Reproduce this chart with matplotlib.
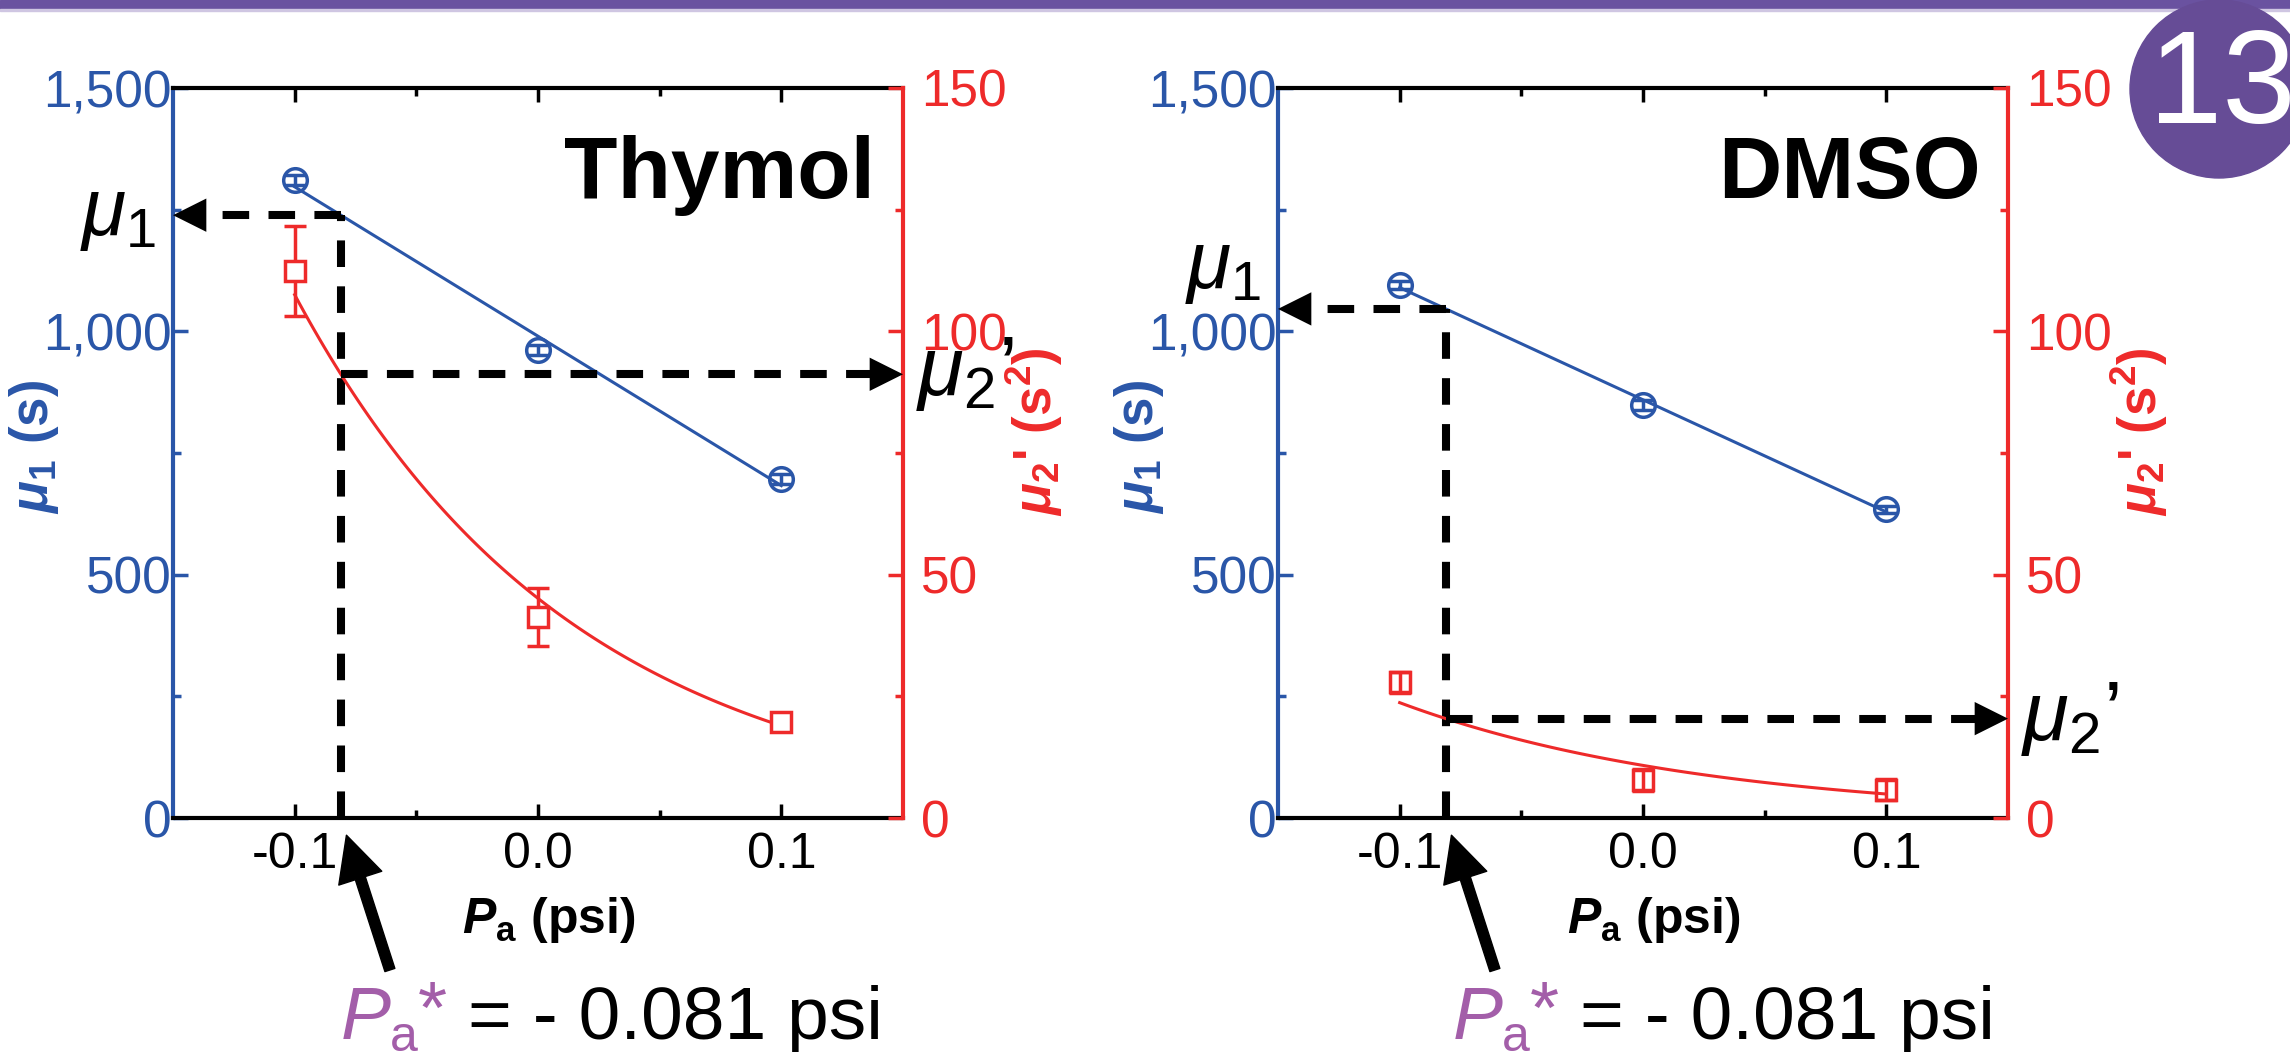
import numpy as np
import matplotlib
matplotlib.use('Agg')
import matplotlib.pyplot as plt
import matplotlib.transforms as mtransforms
from matplotlib.patches import Circle, Rectangle

# values
pressure = [-0.1, 0.0, 0.1]
p_star = -0.081
x_tick_labels = ['-0.1', '0.0', '0.1']
mu1_ticks = [0, 500, 1000, 1500]
mu1_tick_labels = ['0', '500', '1,000', '1,500']
mu2_ticks = [0, 50, 100, 150]
mu2_tick_labels = ['0', '50', '100', '150']

solvents = ['Thymol', 'DMSO']
thymol_mu1 = [1311, 962, 697]
thymol_mu1_err = [10, 10, 10]
thymol_mu2 = [112.4, 41.3, 19.8]
thymol_mu2_err = [9.2, 5.9, 1.0]
dmso_mu1 = [1095, 849, 634]
dmso_mu1_err = [8, 10, 8]
dmso_mu2 = [27.9, 7.8, 5.8]
dmso_mu2_err = [2.2, 2.2, 2.2]

BLUE = '#2a56a8'
RED = '#ee2a2a'
PURPLE = '#664c96'
LILAC = '#a35ea9'
FONT = 'Liberation Sans'

plt.rcParams['font.family'] = [FONT, 'DejaVu Sans']
plt.rcParams['mathtext.fontset'] = 'custom'
plt.rcParams['mathtext.rm'] = FONT
plt.rcParams['mathtext.it'] = FONT + ':italic'
plt.rcParams['mathtext.bf'] = FONT + ':bold'
plt.rcParams['mathtext.bfit'] = FONT + ':italic:bold'

W, H, DPI = 2290, 1052, 100
fig = plt.figure(figsize=(W / DPI, H / DPI), dpi=DPI)
inch = fig.dpi_scale_trans


def px(x, y):
    return x / DPI, (H - y) / DPI


def panel(left, name, mu1, mu1_err, mu2, mu2_err, sq_face, mu1_dy):
    ax = fig.add_axes([left / W, 1 - 818 / H, 730 / W, 730 / H])
    ax2 = ax.twinx()

    for a in (ax, ax2):
        for s in a.spines.values():
            s.set_linewidth(3)
    ax.spines['left'].set_color(BLUE)
    ax.spines['right'].set_visible(False)
    ax2.spines['right'].set_color(RED)
    for s in ('left', 'top', 'bottom'):
        ax2.spines[s].set_visible(False)

    ax.set_xlim(-0.15, 0.15)
    ax.set_xticks(pressure)
    ax.set_xticks([-0.05, 0.05], minor=True)
    ax.set_xticklabels(x_tick_labels)
    ax.set_ylim(0, 1500)
    ax.set_yticks(mu1_ticks)
    ax.set_yticklabels(mu1_tick_labels)
    ax.set_yticks([250, 750, 1250], minor=True)
    ax2.set_ylim(0, 150)
    ax2.set_yticks(mu2_ticks)
    ax2.set_yticklabels(mu2_tick_labels)
    ax2.set_yticks([25, 75, 125], minor=True)

    ax.tick_params(axis='x', which='both', direction='in', top=True, bottom=True,
                   color='k', width=2.5, labelsize=36, pad=10)
    ax.tick_params(axis='x', which='major', length=10)
    ax.tick_params(axis='x', which='minor', length=5.5)
    ax.tick_params(axis='y', which='both', direction='in', color=BLUE,
                   labelcolor=BLUE, width=2.5, labelsize=37, pad=1)
    ax.tick_params(axis='y', which='major', length=10.5)
    ax.tick_params(axis='y', which='minor', length=5.5)
    ax2.tick_params(axis='y', which='both', direction='in', color=RED,
                    labelcolor=RED, width=2.5, labelsize=37, pad=13)
    ax2.tick_params(axis='y', which='major', length=10.5)
    ax2.tick_params(axis='y', which='minor', length=5.5)

    # fits
    k1 = np.polyfit(pressure, mu1, 1)
    k2 = np.polyfit(pressure, np.log(mu2), 1)
    xs = np.linspace(pressure[0], pressure[-1], 100)
    ax.plot(xs, np.polyval(k1, xs), color=BLUE, lw=2.2, zorder=2)
    ax2.plot(xs, np.exp(np.polyval(k2, xs)), color=RED, lw=2.2, zorder=2)

    ax.errorbar(pressure, mu1, yerr=mu1_err, fmt='o', ms=17, mfc='none', mec=BLUE,
                mew=2.5, ecolor=BLUE, elinewidth=2.5, capsize=8, capthick=2.5, zorder=3)
    ax2.errorbar(pressure, mu2, yerr=mu2_err, fmt='s', ms=15, mfc=sq_face, mec=RED,
                 mew=2.5, ecolor=RED, elinewidth=2.5, capsize=8, capthick=2.5, zorder=3)

    ax.set_xlabel(r'$\mathbfit{P}_{\mathbf{a}}$ (psi)', fontsize=36, fontweight='bold',
                  va='top')
    ax.xaxis.set_label_coords(0.515, -0.105)
    ax.set_ylabel(r'$\mathbfit{\mu}_{\mathbf{1}}$ (s)', fontsize=38, fontweight='bold',
                  color=BLUE, rotation=90, ha='center', va='center')
    ax.yaxis.set_label_coords(-0.19, 0.508)
    ax2.set_ylabel(r"$\mathbfit{\mu}_{\mathbf{2}}$' (s$^{\mathbf{2}}$)", fontsize=38,
                   fontweight='bold', color=RED, rotation=90, ha='center', va='center')
    ax2.yaxis.set_label_coords(1.18, 0.529)

    ax.text(0.962, 0.849, name, transform=ax.transAxes, ha='right', va='baseline',
            fontsize=63, fontweight='bold')

    # P* construction
    mu1_star = np.polyval(k1, p_star)
    mu2_star = np.exp(np.polyval(k2, p_star))
    dash = dict(color='k', lw=5.8, dashes=(3.3, 2.4), clip_on=False, zorder=4)
    hl = 0.3 * 33 / 730
    head = dict(arrowstyle='-|>,head_length=1.2,head_width=0.6', mutation_scale=20,
                color='k', lw=0, shrinkA=0, shrinkB=0)
    ax.plot([p_star, p_star], [0, mu1_star], **dash)
    ax.plot([p_star, -0.15 + hl], [mu1_star, mu1_star], **dash)
    ax.annotate('', xy=(-0.15, mu1_star), xytext=(-0.15 + hl, mu1_star),
                arrowprops=head, annotation_clip=False, zorder=5)
    ax2.plot([p_star, 0.15 - hl], [mu2_star, mu2_star], **dash)
    ax2.annotate('', xy=(0.15, mu2_star), xytext=(0.15 - hl, mu2_star),
                 arrowprops=head, annotation_clip=False, zorder=5)

    tr1 = mtransforms.blended_transform_factory(ax.transAxes, ax.transData)
    off = mtransforms.offset_copy(tr1, fig=fig, x=0, y=mu1_dy * 72 / DPI, units='points')
    ax.text(-0.023, mu1_star, r'$\mu_1$', transform=off, fontsize=58,
            ha='right', va='center', clip_on=False)
    tr2 = mtransforms.blended_transform_factory(ax2.transAxes, ax2.transData)
    ax2.text(1.018, mu2_star, '$\\mu_2$\u2019', transform=tr2, fontsize=60,
             ha='left', va='center', clip_on=False)

    ax.annotate('', xy=(p_star, 0), xytext=(49, -152), textcoords='offset pixels',
                arrowprops=dict(arrowstyle='simple,head_length=1.3,head_width=1.3,tail_width=0.3',
                                mutation_scale=25, color='k', shrinkA=0, shrinkB=13),
                annotation_clip=False)
    return ax


panel(173, solvents[0], thymol_mu1, thymol_mu1_err, thymol_mu2, thymol_mu2_err, 'white', 0)
panel(1278, solvents[1], dmso_mu1, dmso_mu1_err, dmso_mu2, dmso_mu2_err, 'none', 41)

# P* = -0.081 psi captions
for dx in (0, 1112):
    fig.text(*px(341 + dx, 1039), 'P', transform=inch, color=LILAC, fontsize=54,
             style='italic', va='baseline')
    fig.text(*px(390 + dx, 1051), 'a', transform=inch, color=LILAC, fontsize=36,
             va='baseline')
    fig.text(*px(418 + dx, 1033), '*', transform=inch, color=LILAC, fontsize=54,
             va='baseline')
    fig.text(*px(468 + dx, 1039), '= - 0.081 psi', transform=inch, color='k',
             fontsize=54, va='baseline')

# header bar and page badge
fig.patches.append(Rectangle(px(0, 9), W / DPI, 0.09, transform=inch,
                             color='#6a52a0', zorder=0))
fig.patches.append(Rectangle(px(0, 11), W / DPI, 0.02, transform=inch,
                             color='#cfc6e2', zorder=0))
fig.patches.append(Circle(px(2219, 89), 0.89, transform=inch, color=PURPLE, zorder=1))
fig.text(*px(2222, 88), '13', transform=inch, color='white', fontsize=95,
         ha='center', va='center')

fig.savefig('out.png', dpi=DPI)
